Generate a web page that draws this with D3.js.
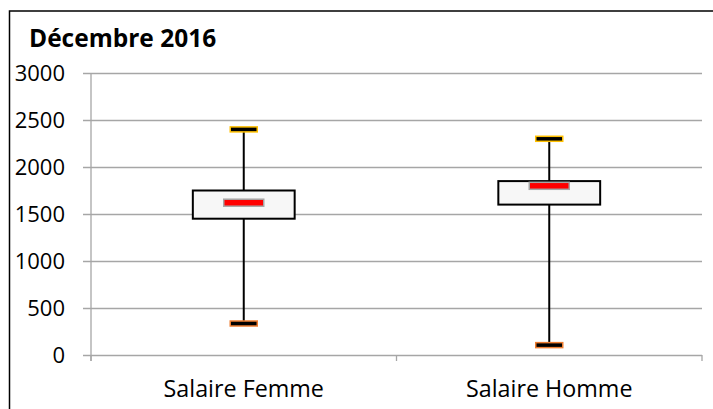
<!DOCTYPE html>
<html>
<head>
<meta charset="utf-8">
<script src="https://cdn.jsdelivr.net/npm/d3@7"></script>
<style>
  body { margin: 0; background: #fff; }
  text { font-family: "Open Sans", sans-serif; }
</style>
</head>
<body>
<div id="chart"></div>
<script>
// box plot: Décembre 2016
var categories = ["Salaire Femme", "Salaire Homme"];
var mins = [335, 105];
var q1s = [1450, 1600];
var medians = [1620, 1800];
var q3s = [1750, 1850];
var maxs = [2400, 2300];
var yTicks = [0, 500, 1000, 1500, 2000, 2500, 3000];

var width = 713;
var height = 409;

var plot = { left: 91, right: 702, top: 73, bottom: 355 };

var svg = d3.select("#chart")
    .append("svg")
    .attr("width", width)
    .attr("height", height);

// outer chart border
svg.append("rect")
    .attr("x", 9.5)
    .attr("y", 11)
    .attr("width", 720)
    .attr("height", 420)
    .attr("fill", "#fff")
    .attr("stroke", "#000")
    .attr("stroke-width", 1.5);

var x = d3.scaleBand()
    .domain(categories)
    .range([plot.left, plot.right]);

var y = d3.scaleLinear()
    .domain([0, 3000])
    .range([plot.bottom, plot.top]);

// gridlines + y labels
var yAxis = d3.axisLeft(y)
    .tickValues(yTicks)
    .tickSize(0)
    .tickFormat(d3.format("d"));

var gy = svg.append("g")
    .attr("transform", "translate(" + (plot.left - 8) + ",0)")
    .call(yAxis);
gy.select(".domain").remove();
gy.selectAll(".tick line")
    .attr("x1", 0)
    .attr("x2", plot.right - plot.left + 8)
    .attr("stroke", "#a6a6a6")
    .attr("stroke-width", 1.3);
gy.selectAll(".tick text")
    .attr("x", -18)
    .attr("fill", "#000")
    .style("font-size", "22px");

// vertical axis line
svg.append("line")
    .attr("x1", plot.left).attr("x2", plot.left)
    .attr("y1", plot.top).attr("y2", plot.bottom + 6)
    .attr("stroke", "#a6a6a6")
    .attr("stroke-width", 1.3);

// category axis
var xAxis = d3.axisBottom(x).tickSize(0).tickPadding(0);
var gx = svg.append("g")
    .attr("transform", "translate(0," + plot.bottom + ")")
    .call(xAxis);
gx.select(".domain").remove();
gx.selectAll(".tick text")
    .attr("y", 42)
    .attr("dy", null)
    .attr("fill", "#000")
    .style("font-size", "23.3px");

// category boundary ticks
var bounds = [plot.left, x(categories[1]), plot.right];
svg.selectAll(".xb")
    .data(bounds)
    .enter().append("line")
    .attr("x1", function(d) { return d; })
    .attr("x2", function(d) { return d; })
    .attr("y1", plot.bottom)
    .attr("y2", plot.bottom + 6)
    .attr("stroke", "#a6a6a6")
    .attr("stroke-width", 1.3);

var boxW = x.bandwidth() / 3;
var medW = 40, medH = 7;
var capW = 27, capH = 5;

var rows = categories.map(function(c, i) {
    return { cat: c, min: mins[i], q1: q1s[i], med: medians[i], q3: q3s[i], max: maxs[i] };
});

var g = svg.selectAll(".box")
    .data(rows)
    .enter().append("g")
    .attr("transform", function(d) { return "translate(" + (x(d.cat) + x.bandwidth() / 2) + ",0)"; });

// whisker
g.append("line")
    .attr("x1", 0).attr("x2", 0)
    .attr("y1", function(d) { return y(d.max); })
    .attr("y2", function(d) { return y(d.min); })
    .attr("stroke", "#000")
    .attr("stroke-width", 2);

// box
g.append("rect")
    .attr("x", -boxW / 2)
    .attr("width", boxW)
    .attr("y", function(d) { return y(d.q3); })
    .attr("height", function(d) { return y(d.q1) - y(d.q3); })
    .attr("fill", "#f7f7f7")
    .attr("stroke", "#000")
    .attr("stroke-width", 2);

// median marker
g.append("rect")
    .attr("x", -medW / 2)
    .attr("width", medW)
    .attr("y", function(d) { return y(d.med) - medH / 2; })
    .attr("height", medH)
    .attr("fill", "#ff0000")
    .attr("stroke", "#a6a6a6")
    .attr("stroke-width", 1.5);

// max cap
g.append("rect")
    .attr("x", -capW / 2)
    .attr("width", capW)
    .attr("y", function(d) { return y(d.max) - capH / 2; })
    .attr("height", capH)
    .attr("fill", "#000")
    .attr("stroke", "#ffc000")
    .attr("stroke-width", 1.5);

// min cap
g.append("rect")
    .attr("x", -capW / 2)
    .attr("width", capW)
    .attr("y", function(d) { return y(d.min) - capH / 2; })
    .attr("height", capH)
    .attr("fill", "#000")
    .attr("stroke", "#ed7d31")
    .attr("stroke-width", 1.5);

// title
svg.append("text")
    .attr("x", 29)
    .attr("y", 47)
    .attr("font-weight", "bold")
    .style("font-size", "24.5px")
    .text("Décembre 2016");
</script>
</body>
</html>
